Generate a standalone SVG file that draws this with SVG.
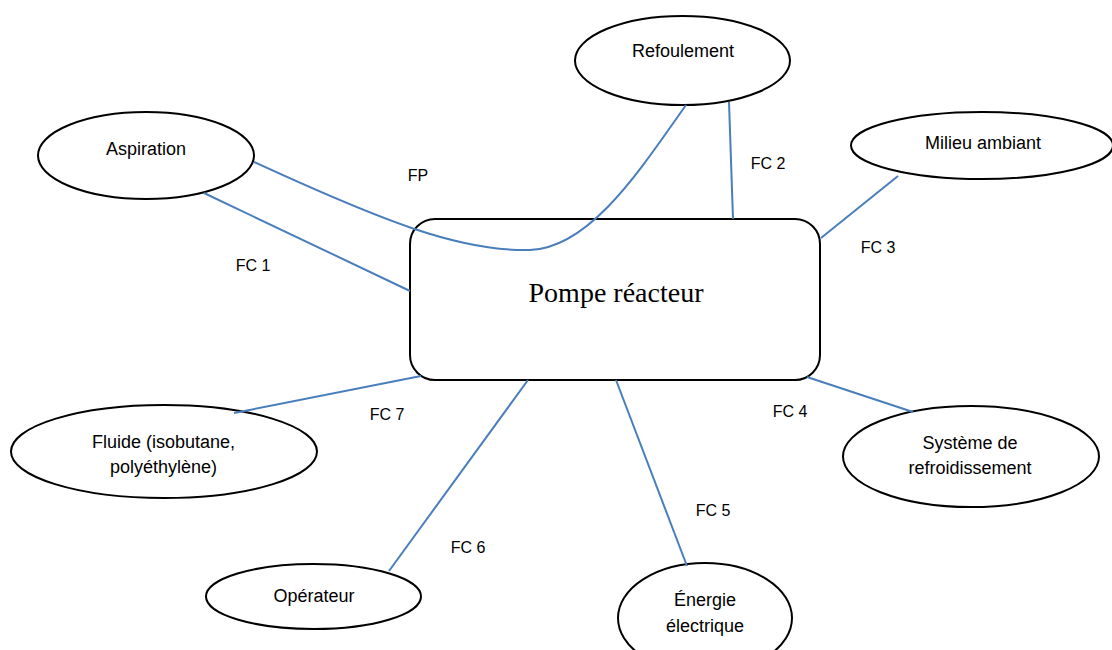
<svg xmlns="http://www.w3.org/2000/svg" width="1112" height="650" viewBox="0 0 1112 650">
<style>
.n{fill:#fff;stroke:#000;stroke-width:2}
.c{fill:none;stroke:#4a7ebb;stroke-width:2}
.t{font-family:"Liberation Sans",Arial,sans-serif;font-size:18px;fill:#000;text-anchor:middle}
.l{font-family:"Liberation Sans",Arial,sans-serif;font-size:16px;fill:#000;text-anchor:middle}
.m{font-family:"Liberation Serif","Times New Roman",serif;font-size:28px;fill:#000;text-anchor:middle}
</style>
<rect width="1112" height="650" fill="#fff"/>
<g id="n-aspiration"><ellipse class="n" cx="146" cy="155.5" rx="108" ry="43.5"/><text class="t" x="146" y="155">Aspiration</text></g>
<g id="n-refoulement"><ellipse class="n" cx="682.5" cy="60.5" rx="107.5" ry="44.5"/><text class="t" x="683" y="57">Refoulement</text></g>
<g id="n-milieu"><ellipse class="n" cx="982" cy="145.5" rx="131" ry="33.5"/><text class="t" x="983" y="149">Milieu ambiant</text></g>
<g id="n-refroid"><ellipse class="n" cx="971" cy="456.5" rx="128" ry="50.5"/><text class="t" x="970" y="449">Système de</text><text class="t" x="970" y="474">refroidissement</text></g>
<g id="n-energie"><ellipse class="n" cx="705" cy="618" rx="87" ry="55"/><text class="t" x="705" y="606">Énergie</text><text class="t" x="705" y="632">électrique</text></g>
<g id="n-operateur"><ellipse class="n" cx="313.5" cy="596.5" rx="107.5" ry="32.5"/><text class="t" x="314" y="601.5">Opérateur</text></g>
<g id="n-fluide"><ellipse class="n" cx="164" cy="451.5" rx="153" ry="46.5"/><text class="t" x="163.5" y="447.5">Fluide (isobutane,</text><text class="t" x="163.5" y="473">polyéthylène)</text></g>
<g id="n-pompe"><rect class="n" x="410" y="219" width="410" height="161" rx="25" ry="25"/><text class="m" x="616" y="302">Pompe réacteur</text></g>
<g id="connectors">
<path class="c" d="M254,162 C380,220 460,252 530,250 C590,248 640,170 686,105"/>
<line class="c" x1="204" y1="193" x2="410" y2="291"/>
<line class="c" x1="729" y1="102" x2="733" y2="219"/>
<line class="c" x1="898" y1="176" x2="821" y2="238"/>
<line class="c" x1="807" y1="377" x2="913" y2="412"/>
<line class="c" x1="616" y1="380" x2="687" y2="566"/>
<line class="c" x1="528" y1="380" x2="389" y2="571"/>
<line class="c" x1="421" y1="376" x2="234" y2="413"/>
<text class="l" x="418" y="180.5">FP</text>
<text class="l" x="253" y="271">FC 1</text>
<text class="l" x="768" y="169">FC 2</text>
<text class="l" x="878" y="253">FC 3</text>
<text class="l" x="790" y="416.5">FC 4</text>
<text class="l" x="713" y="516">FC 5</text>
<text class="l" x="468" y="553">FC 6</text>
<text class="l" x="387" y="419.5">FC 7</text>
</g>
</svg>
